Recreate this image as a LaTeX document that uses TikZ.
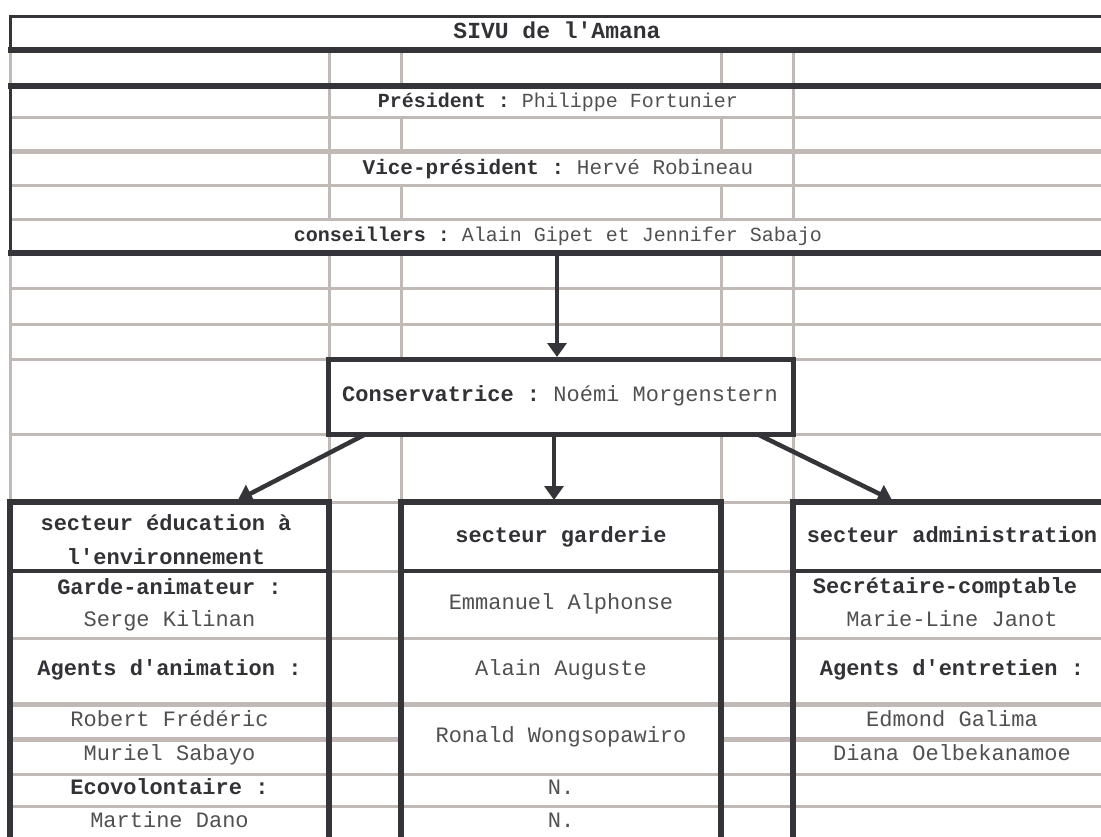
\documentclass[tikz,border=0pt]{standalone}
\usepackage{fontspec}
\setmonofont{Liberation Mono}
\usetikzlibrary{arrows.meta}
\definecolor{dk}{RGB}{52,52,57}
\definecolor{gr}{RGB}{193,185,181}
\definecolor{nm}{RGB}{80,80,80}
\definecolor{lb}{RGB}{50,50,54}
\newcommand\lbl[1]{\textcolor{lb}{\bfseries #1}}
\newcommand\nme[1]{\textcolor{nm}{#1}}
\begin{document}
\begin{tikzpicture}[x=1pt,y=-1pt,
  dk/.style={draw=dk,line width=3pt},
  dkt/.style={draw=dk,line width=5.5pt},
  gl/.style={draw=gr,line width=3pt},
  glt/.style={draw=gr,line width=5pt},
  arr/.style={draw=dk,line width=4.5pt,-{Triangle[width=19pt,length=14pt]}},
  txt/.style={inner sep=0pt,anchor=mid,font=\ttfamily\fontsize{20}{24}\selectfont},
  big/.style={inner sep=0pt,anchor=mid,font=\ttfamily\fontsize{22}{26}\selectfont},
  hdr/.style={inner sep=0pt,align=center,font=\ttfamily\fontsize{22}{34}\selectfont},
  ]
\useasboundingbox (0,0) rectangle (1101,837);
% ---------- gray grid ----------
\draw[gl] (10,118) -- (1101,118);
\draw[glt] (10,152) -- (1101,152);
\draw[gl] (10,186) -- (1101,186);
\draw[gl] (10,220) -- (1101,220);
\draw[gl] (10,289) -- (1101,289);
\draw[gl] (10,324) -- (1101,324);
\draw[gl] (10,359) -- (329,359) (793,359) -- (1101,359);
\draw[gl] (10,434) -- (329,434) (793,434) -- (1101,434);
\draw[gl] (329,502) -- (401,502) (721,502) -- (793,502);
\draw[gl] (329,571) -- (401,571) (721,571) -- (793,571);
\draw[gl] (10,638) -- (1101,638);
\draw[glt] (10,704) -- (1101,704);
\draw[glt] (10,739) -- (401,739) (721,739) -- (1101,739);
\draw[gl] (10,774) -- (1101,774);
\draw[gl] (10,806) -- (1101,806);
% verticals
\draw[gl] (10,50) -- (10,86) (10,253) -- (10,502);
\foreach \x in {329,793}{
  \draw[gl] (\x,50) -- (\x,220) (\x,253) -- (\x,359) (\x,434) -- (\x,502);
}
\foreach \x in {401,721}{
  \draw[gl] (\x,50) -- (\x,86) (\x,118) -- (\x,152) (\x,186) -- (\x,220)
            (\x,253) -- (\x,359) (\x,434) -- (\x,502);
}
% ---------- dark lines ----------
\draw[dk] (10,16.5) -- (1101,16.5);
\draw[dk] (10,15) -- (10,50) (10,86) -- (10,253);
\draw[dkt] (8,50) -- (1101,50);
\draw[dkt] (8,86) -- (1101,86);
\draw[dkt] (8,253) -- (1101,253);
% sector boxes
\draw[dkt] (10,845) -- (10,502) -- (329,502) -- (329,845);
\draw[dkt] (401,845) -- (401,502) -- (721,502) -- (721,845);
\draw[dkt] (793,845) -- (793,502) -- (1110,502);
\draw[draw=dk,line width=3.5pt] (10,571) -- (329,571) (401,571) -- (721,571) (793,571) -- (1101,571);
% ---------- top texts ----------
\node[txt,font=\ttfamily\fontsize{23}{26}\selectfont] (title) at (557,36) {\lbl{SIVU de l'Amana}};
\node[txt] (pres) at (558,105) {\lbl{Président :} \nme{Philippe Fortunier}};
\node[txt,font=\ttfamily\fontsize{21}{24}\selectfont] (vice) at (558,172) {\lbl{Vice-président :} \nme{Hervé Robineau}};
\node[txt] (cons) at (558,239) {\lbl{conseillers :} \nme{Alain Gipet et Jennifer Sabajo}};
% ---------- conservatrice ----------
\node[draw=dk,line width=5pt,minimum width=465pt,minimum height=75pt,inner sep=0pt]
  (conv) at (560.5,396.5) {};
\node[big] (convt) at (560,399) {\lbl{Conservatrice :} \nme{Noémi Morgenstern}};
% ---------- sector headers ----------
\node[hdr] (edu) at (166,540) {\lbl{secteur éducation à}\\\lbl{l'environnement}};
\node[big] (gard) at (561,540) {\lbl{secteur garderie}};
\node[big] (adm) at (952,540) {\lbl{secteur administration}};
% ---------- left column ----------
\node[big] (l1) at (169.5,592) {\lbl{Garde-animateur :}};
\node[big] (l2) at (169.5,624) {\nme{Serge Kilinan}};
\node[big] (l3) at (169.5,673) {\lbl{Agents d'animation :}};
\node[big] (l4) at (169.5,724) {\nme{Robert Frédéric}};
\node[big] (l5) at (169.5,758) {\nme{Muriel Sabayo}};
\node[big] (l6) at (169.5,792) {\lbl{Ecovolontaire :}};
\node[big] (l7) at (169.5,825) {\nme{Martine Dano}};
% ---------- middle column ----------
\node[big] (m1) at (561,607) {\nme{Emmanuel Alphonse}};
\node[big] (m2) at (561,673) {\nme{Alain Auguste}};
\node[big] (m3) at (561,740) {\nme{Ronald Wongsopawiro}};
\node[big] (m4) at (561,792) {\nme{N.}};
\node[big] (m5) at (561,825) {\nme{N.}};
% ---------- right column ----------
\node[big] (r1) at (945,591) {\lbl{Secrétaire-comptable}};
\node[big] (r2) at (952,624) {\nme{Marie-Line Janot}};
\node[big] (r3) at (952,673) {\lbl{Agents d'entretien :}};
\node[big] (r4) at (952,724) {\nme{Edmond Galima}};
\node[big] (r5) at (952,758) {\nme{Diana Oelbekanamoe}};
% ---------- connectors ----------
\coordinate (topS) at (557,253);
\coordinate (convN) at (557,357);
\coordinate (convSW) at (366,434);
\coordinate (convS) at (554,434);
\coordinate (convSE) at (757,434);
\coordinate (eduN) at (238,500);
\coordinate (gardN) at (554,500);
\coordinate (admN) at (892,500);
\draw[arr] (topS) -- (convN);
\draw[arr] (convSW) -- (eduN);
\draw[arr] (convS) -- (gardN);
\draw[arr] (convSE) -- (admN);
\end{tikzpicture}
\end{document}
